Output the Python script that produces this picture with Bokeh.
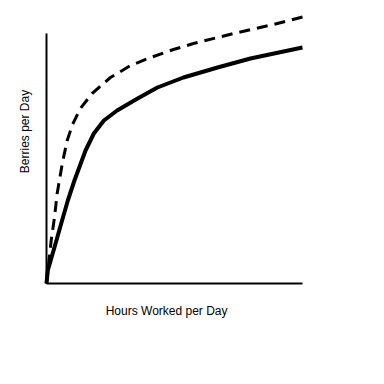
import math
from bokeh.plotting import figure
from bokeh.models import Range1d
from bokeh.core.properties import value
from bokeh.embed import file_html
from bokeh.resources import INLINE

# Hours worked (x) vs berries per day (y); arbitrary units
solid_x = [0, 0.06, 0.375, 0.69, 1.0, 1.31, 1.83, 2.22, 2.69, 3.31, 4.25, 5.2, 6.42, 8.02, 9.56, 11.11, 12.0]
solid_y = [0, 5.2, 14.5, 24, 33.2, 41.2, 53.2, 60, 65.2, 69.2, 73.9, 78.4, 82.4, 86.4, 90, 92.8, 94.4]
dash_x = [0, 0.22, 0.375, 0.5, 0.74, 0.97, 1.22, 1.59, 2.14, 3.0, 3.94, 4.88, 5.95, 6.89, 8.77, 10.64, 12.0]
dash_y = [0, 17.2, 26.5, 36, 48, 57.2, 63.6, 70, 76, 82.4, 87.2, 90.4, 93.6, 96, 100, 103.6, 106.6]
x_axis_extent = [0, 12]
y_axis_extent = [0, 100]
x_label = "Hours Worked per Day"
y_label = "Berries per Day"

p = figure(width=376, height=376, output_backend="svg", toolbar_location=None,
           x_range=Range1d(-2.156, 15.469), y_range=Range1d(-37.2, 113.2),
           x_axis_type=None, y_axis_type=None,
           min_border=0, min_border_left=0, min_border_right=0,
           min_border_top=0, min_border_bottom=0)
p.outline_line_color = None
p.grid.visible = False
p.background_fill_color = "white"
p.border_fill_color = "white"

# axis lines
p.line(x_axis_extent, [0, 0], line_width=2, line_color="black")
p.line([0, 0], y_axis_extent, line_width=2, line_color="black")

p.line(dash_x, dash_y, line_width=3, line_color="black", line_dash="11 7", line_join="round")
p.line(solid_x, solid_y, line_width=4, line_color="black", line_join="round")

p.text(x=[5.63], y=[-10.8], text=[x_label], text_align="center", text_baseline="middle",
       text_font=value("Liberation Sans"), text_font_size="12px", text_color="black")
p.text(x=[-1.03], y=[60.8], text=[y_label], text_align="center", text_baseline="middle",
       angle=math.pi / 2, text_font=value("Liberation Sans"), text_font_size="12px",
       text_color="black")

open("out.html", "w").write(file_html(p, INLINE))
